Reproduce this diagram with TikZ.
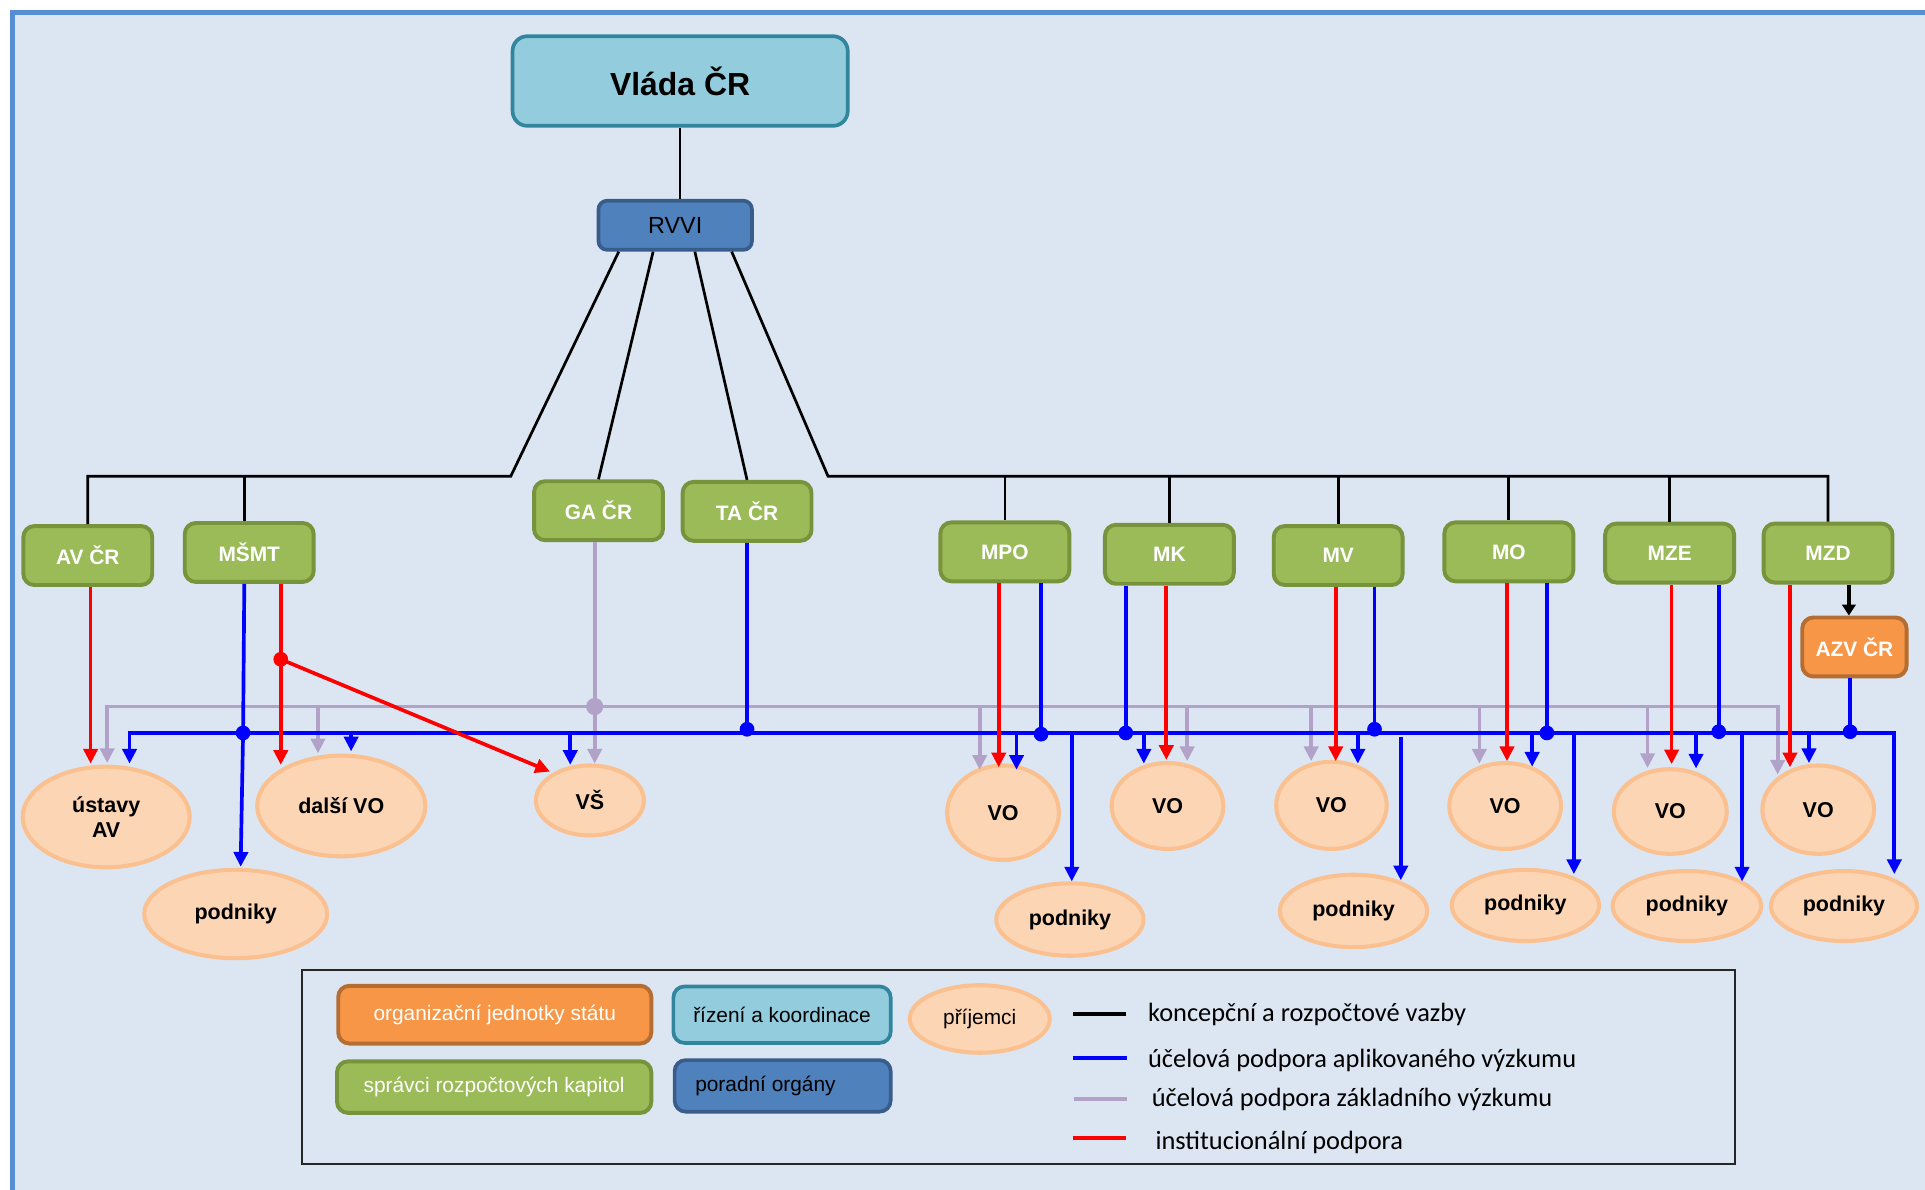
\documentclass[tikz,border=0pt]{standalone}
\usepackage{fontspec}
\setmainfont{Liberation Sans}
\newfontfamily\calfont{Carlito}
\usetikzlibrary{arrows.meta,shapes.geometric}
\definecolor{bgc}{HTML}{DCE6F2}
\definecolor{framec}{HTML}{558ED5}
\definecolor{tealf}{HTML}{93CDDD}
\definecolor{teald}{HTML}{31859C}
\definecolor{bluef}{HTML}{4F81BD}
\definecolor{blued}{HTML}{385D8A}
\definecolor{greenf}{HTML}{9BBB59}
\definecolor{greend}{HTML}{77933C}
\definecolor{orangef}{HTML}{F79646}
\definecolor{oranged}{HTML}{B66D31}
\definecolor{peachf}{HTML}{FCD5B5}
\definecolor{peachd}{HTML}{FAC090}
\definecolor{lav}{HTML}{B3A2C7}
\definecolor{apblue}{HTML}{0000FF}
\definecolor{inred}{HTML}{FF0000}
\tikzset{
  gbox/.style={draw=greend, fill=greenf, line width=3.2pt, rounded corners=9pt,
    minimum width=105pt, minimum height=48pt, inner sep=0pt, text=white,
    font=\bfseries\fontsize{17}{20}\selectfont},
  obox/.style={draw=oranged, fill=orangef, line width=3.2pt, rounded corners=9pt,
    inner sep=0pt, text=white},
  tbox/.style={draw=teald, fill=tealf, line width=3pt, inner sep=0pt},
  bbox/.style={draw=blued, fill=bluef, line width=3pt, inner sep=0pt},
  recip/.style={ellipse, draw=peachd, fill=peachf, line width=3.3pt, inner sep=0pt,
    align=center, font=\bfseries\fontsize{17.5}{21}\selectfont},
  conc/.style={line width=2.2pt, black},
  apl/.style={line width=3pt, apblue},
  zak/.style={line width=3pt, lav},
  ins/.style={line width=3pt, inred},
  arr/.style={-{Triangle[length=12pt,width=11.5pt]}},
  arrboth/.style={{Triangle[length=12pt,width=11.5pt]}-{Triangle[length=12pt,width=11.5pt]}},
  legtext/.style={anchor=west, inner sep=0pt, font=\calfont\fontsize{21.5}{25}\selectfont},
  legbox/.style={font=\fontsize{17}{20}\selectfont}
}
\begin{document}
\begin{tikzpicture}[x=1pt,y=-1pt]
\useasboundingbox (0,0) rectangle (1568,969);
\fill[white] (0,0) rectangle (1568,969);
\draw[framec, line width=4pt, fill=bgc] (10,10) rectangle (1600,1000);

% top nodes
\node[tbox, rounded corners=12pt, minimum width=273pt, minimum height=73pt,
  font=\bfseries\fontsize{26}{30}\selectfont] (vlada) at (554,66) {Vláda ČR};
\node[bbox, rounded corners=7pt, minimum width=125pt, minimum height=40pt,
  font=\fontsize{19}{22}\selectfont] (rvvi) at (550,183.5) {RVVI};

% green boxes
\node[gbox] (av)   at (71.5,452.5) {AV ČR};
\node[gbox] (msmt) at (203,450)    {MŠMT};
\node[gbox] (ga)   at (487.5,416)  {GA ČR};
\node[gbox] (ta)   at (608.5,416.5){TA ČR};
\node[gbox] (mpo)  at (818.5,449.5){MPO};
\node[gbox] (mk)   at (952.5,451.5){MK};
\node[gbox] (mv)   at (1090,452.5) {MV};
\node[gbox] (mo)   at (1229,449.5) {MO};
\node[gbox] (mze)  at (1360,450.5) {MZE};
\node[gbox] (mzd)  at (1489,450.5) {MZD};
\node[obox, minimum width=85pt, minimum height=48pt,
  font=\bfseries\fontsize{17}{20}\selectfont] (azv) at (1510.5,527) {AZV ČR};

% recipients
\node[recip, minimum width=136pt, minimum height=82pt] (uav)  at (86.5,665.5) {ústavy\\AV};
\node[recip, minimum width=149pt, minimum height=72pt] (pod0) at (192,744.5) {podniky};
\node[recip, minimum width=137pt, minimum height=82pt] (dvo)  at (278,656.5) {další VO};
\node[recip, minimum width=88pt,  minimum height=57pt] (vs)   at (480.5,652) {VŠ};
\node[recip, minimum width=91pt,  minimum height=77pt] (vo1)  at (817,662)   {VO};
\node[recip, minimum width=120pt, minimum height=59pt] (pod1) at (871.5,749) {podniky};
\node[recip, minimum width=91pt,  minimum height=70pt] (vo2)  at (951,656.5) {VO};
\node[recip, minimum width=90pt,  minimum height=71pt] (vo3)  at (1084.5,656) {VO};
\node[recip, minimum width=120pt, minimum height=59pt] (pod3) at (1102.5,742) {podniky};
\node[recip, minimum width=91pt,  minimum height=70pt] (vo4)  at (1226,656.5) {VO};
\node[recip, minimum width=120pt, minimum height=58pt] (pod4) at (1242.5,737.5) {podniky};
\node[recip, minimum width=92pt,  minimum height=69pt] (vo5)  at (1360.5,661) {VO};
\node[recip, minimum width=121pt, minimum height=57pt] (pod5) at (1374,738) {podniky};
\node[recip, minimum width=91pt,  minimum height=72pt] (vo6)  at (1481,659.5) {VO};
\node[recip, minimum width=119pt, minimum height=57pt] (pod6) at (1502,738) {podniky};

% conceptual (black) links
\coordinate (L) at (416,388);
\coordinate (R) at (674.5,388);
\coordinate (msN) at ([xshift=-4pt]msmt.north);
\draw[conc] (vlada.south) -- (vlada.south |- rvvi.north);
\draw[conc] ([xshift=-46pt]rvvi.south) -- (L) -| (av.north);
\draw[conc] (msN |- L) -- (msN);
\draw[conc] ([xshift=-18pt]rvvi.south) -- (ga.north);
\draw[conc] ([xshift=16pt]rvvi.south) -- (ta.north);
\draw[conc] ([xshift=46pt]rvvi.south) -- (R) -- (R -| mzd.north) -- (mzd.north);
\foreach \n in {mpo,mk,mv,mo,mze} \draw[conc] (\n.north |- R) -- (\n.north);
\coordinate (mzdS) at ([xshift=17pt]mzd.south);
\draw[conc,line width=2.8pt,-{Triangle[length=9pt,width=11pt]}] (mzdS) -- (mzdS |- azv.north);

% basic research (lavender)
\draw[zak,arrboth] (87.3,621.5) |- (1448,575.5) -- (1448,631);
\foreach \x/\y in {259/613.6, 798/627, 967/620, 1068/620, 1205/622, 1342/625.6}
  \draw[zak,arr] (\x,575.5) -- (\x,\y);
\draw[zak,arr] (484.4,0 |- ga.south) -- (484.4,622);

% applied research (blue)
\draw[apl,arrboth] (105.5,622) |- (1543,597) -- (1543,712);
\foreach \x/\y in {286/612, 464.5/623, 828/627, 931.7/622, 1106/622, 1248/624.5, 1381.5/626, 1473.5/621.6}
  \draw[apl,arr] (\x,597) -- (\x,\y);
\foreach \x/\y in {873/718, 1282/712, 1419/718}
  \draw[apl,arr] (\x,597) -- (\x,\y);
\draw[apl,arr] (1141,600) -- (1141,717);
\draw[apl,arr] (199,0 |- msmt.south) -- (198,597) -- (196,706);
\draw[apl] (608.5,0 |- ta.south) -- (608.5,594);
\draw[apl] (848,0 |- mpo.south) -- (848,598);
\draw[apl] (917,0 |- mk.south) -- (917,597);
\draw[apl] (1119.6,0 |- mv.south) -- (1119.6,594);
\draw[apl] (1260,0 |- mo.south) -- (1260,597);
\draw[apl] (1400,0 |- mze.south) -- (1400,596);
\draw[apl] (1507,0 |- azv.south) -- (1507,596);

% institutional (red)
\draw[ins,arr] (73.8,0 |- av.south) -- (73.8,622);
\draw[ins,arr] (228.7,0 |- msmt.south) -- (228.7,623);
\coordinate (rd) at (228.7,537);
\draw[ins,arr] (rd) -- (448,628.5);
\draw[ins,arr] (813.5,0 |- mpo.south) -- (813.5,625);
\draw[ins,arr] (950,0 |- mk.south) -- (950,619);
\draw[ins,arr] (1088,0 |- mv.south) -- (1088,620);
\draw[ins,arr] (1227.5,0 |- mo.south) -- (1227.5,620);
\draw[ins,arr] (1361.6,0 |- mze.south) -- (1361.6,622.5);
\draw[ins,arr] (1458,0 |- mzd.south) -- (1458,625);

% junction dots
\fill[inred] (rd) circle[radius=6pt];
\fill[lav] (484.4,575.5) circle[radius=7pt];
\foreach \x/\y in {198/597, 608.5/594, 848/598, 917/597, 1119.6/594, 1260/597, 1400/596, 1507/596}
  \fill[apblue] (\x,\y) circle[radius=6pt];

% legend
\draw[line width=1.3pt, black!85] (246,790) rectangle (1413,948);
\node[obox, legbox, minimum width=255pt, minimum height=47pt] (lorg) at (403,826.5) {organizační jednotky státu};
\node[tbox, legbox, rounded corners=9pt, minimum width=177pt, minimum height=46pt] (lriz) at (637,826.5) {řízení a koordinace};
\node[recip, font=\fontsize{17}{20}\selectfont, minimum width=114pt, minimum height=55pt] (lpri) at (798,830) {příjemci};
\node[gbox, legbox, minimum width=256pt, minimum height=42pt] (lspr) at (402.5,885.5) {správci rozpočtových kapitol};
\node[bbox, legbox, text=black, rounded corners=9pt, minimum width=176pt, minimum height=42pt] (lpor) at (637.5,884.5) {poradní orgány\hspace*{28pt}};

\draw[conc, line width=3.5pt] (874,826) -- (917,826);
\draw[apl, line width=3.5pt] (874,862) -- (918,862);
\draw[zak, line width=3.5pt] (875,895) -- (918,895);
\draw[ins, line width=3.5pt] (874,927) -- (917,927);
\node[legtext] (t1) at (935,826.5) {koncepční a rozpočtové vazby};
\node[legtext] (t2) at (935,863.5) {účelová podpora aplikovaného výzkumu};
\node[legtext] (t3) at (938,895.5) {účelová podpora základního výzkumu};
\node[legtext] (t4) at (941,930.5) {institucionální podpora};
\end{tikzpicture}
\end{document}
